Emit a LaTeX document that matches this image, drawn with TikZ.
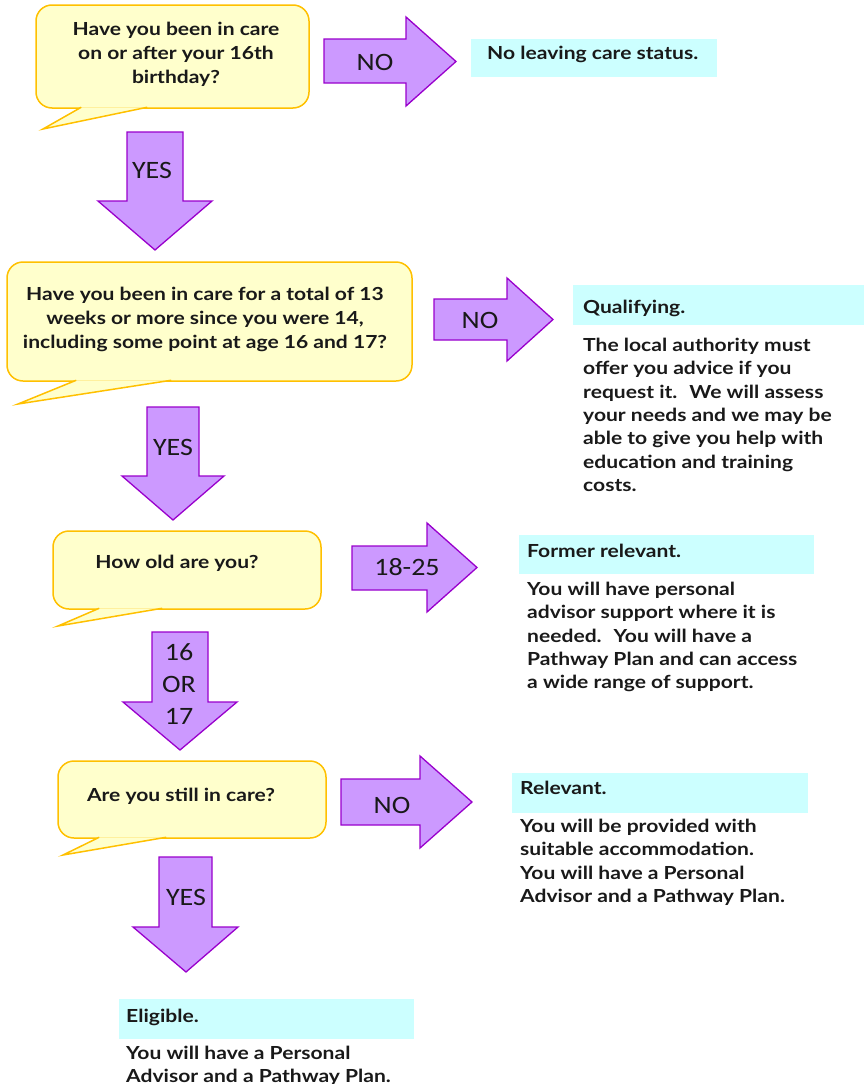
\documentclass[tikz,border=0pt]{standalone}
\usepackage{fontspec}
\setmainfont{Lato}[FakeStretch=1.17]
\newfontfamily\labelfont{Carlito}[FakeStretch=1.12]
\usetikzlibrary{calc}

\definecolor{bubfill}{RGB}{255,255,204}
\definecolor{bubline}{RGB}{255,192,0}
\definecolor{arrfill}{RGB}{204,153,255}
\definecolor{arrline}{RGB}{153,0,204}
\definecolor{headfill}{RGB}{204,255,255}
\definecolor{inktext}{RGB}{25,25,25}

\tikzset{
  bubble/.style={draw=bubline, fill=bubfill, line width=1.5pt, rounded corners=16pt, inner sep=0pt},
  tail/.style={draw=bubline, fill=bubfill, line width=1.5pt, line join=miter},
  blockarrow/.style={draw=arrline, fill=arrfill, line width=1.3pt, line join=miter},
  asktext/.style={font=\fontsize{18}{24}\selectfont\bfseries, text=inktext, align=center, inner sep=0pt, anchor=north},
  arrowtext/.style={font=\labelfont\fontsize{25}{32}\selectfont, text=inktext, align=center, inner sep=0pt},
  headbox/.style={fill=headfill, inner sep=0pt, anchor=north west},
  outtext/.style={font=\fontsize{18}{23.3}\selectfont\bfseries, text=inktext, align=left, inner sep=0pt, anchor=north west}
}

\begin{document}
\begin{tikzpicture}[x=1pt,y=-1pt]
  \useasboundingbox (0,0) rectangle (864,1084);

  % question bubbles
  \node[bubble, minimum width=273, minimum height=103] (b1) at (172.5,56.5) {};
  \coordinate (t1) at (43,129);
  \draw[tail] ($(b1.south west)+(46,-1.5)$) -- (t1) -- ($(b1.south west)+(112,-1.5)$);
  \node[asktext] (q1) at (176,22) {Have you been in care\\on or after your 16th\\birthday?};

  \node[bubble, minimum width=405, minimum height=119] (b2) at (209.5,321.5) {};
  \coordinate (t2) at (18,404);
  \draw[tail] ($(b2.south west)+(70,-1.5)$) -- (t2) -- ($(b2.south west)+(165,-1.5)$);
  \node[asktext] (q2) at (205,287) {Have you been in care for a total of 13\\weeks or more since you were 14,\\including some point at age 16 and 17?};

  \node[bubble, minimum width=268, minimum height=78] (b3) at (187,570) {};
  \coordinate (t3) at (58,626);
  \draw[tail] ($(b3.south west)+(47,-1.5)$) -- (t3) -- ($(b3.south west)+(110,-1.5)$);
  \node[asktext] (q3) at (177,555) {How old are you?};

  \node[bubble, minimum width=268, minimum height=77] (b4) at (192,799.5) {};
  \coordinate (t4) at (63,855);
  \draw[tail] ($(b4.south west)+(42,-1.5)$) -- (t4) -- ($(b4.south west)+(109,-1.5)$);
  \node[asktext] (q4) at (181,788) {Are you still in care?};

  % block arrows
  \draw[blockarrow] (324,39) -- (406,39) -- (406,17) -- (456,61.5) -- (406,106) -- (406,83) -- (324,83) -- cycle;
  \node[arrowtext] (no1) at (375,62) {NO};
  \draw[blockarrow] (127,132) -- (183,132) -- (183,201) -- (212,201) -- (155,250) -- (98,201) -- (127,201) -- cycle;
  \node[arrowtext] (yes1) at (152,170) {YES};

  \draw[blockarrow] (434,299) -- (507,299) -- (507,278) -- (553,319.5) -- (507,361) -- (507,340) -- (434,340) -- cycle;
  \node[arrowtext] (no2) at (480,320) {NO};
  \draw[blockarrow] (147,407) -- (199,407) -- (199,476) -- (224,476) -- (173,520) -- (122,476) -- (147,476) -- cycle;
  \node[arrowtext] (yes2) at (173,447) {YES};

  \draw[blockarrow] (352,546) -- (427,546) -- (427,523) -- (477,567.5) -- (427,612) -- (427,590) -- (352,590) -- cycle;
  \node[arrowtext] (older) at (407,567) {18-25};
  \draw[blockarrow] (152,632) -- (208,632) -- (208,702) -- (237,702) -- (180,750) -- (123,702) -- (152,702) -- cycle;
  \node[arrowtext] (younger) at (179,684) {16\\OR\\17};

  \draw[blockarrow] (341,779) -- (420,779) -- (420,756) -- (472,802) -- (420,848) -- (420,825) -- (341,825) -- cycle;
  \node[arrowtext] (no3) at (392,805) {NO};
  \draw[blockarrow] (159,857) -- (212,857) -- (212,927) -- (238,927) -- (186,972) -- (133,927) -- (159,927) -- cycle;
  \node[arrowtext] (yes3) at (186,897) {YES};

  % outcomes
  \node[headbox, minimum width=246, minimum height=38] (s1) at (471,39) {};
  \node[outtext] (s1t) at (487,46) {No leaving care status.};

  \node[headbox, minimum width=291, minimum height=40] (s2) at (573,285) {};
  \node[outtext] (s2t) at (583,300) {Qualifying.};
  \node[outtext] (s2b) at (583,338) {The local authority must\\offer you advice if you\\request it.~ We will assess\\your needs and we may be\\able to give you help with\\education and training\\costs.};

  \node[headbox, minimum width=295, minimum height=39] (s3) at (519,535) {};
  \node[outtext] (s3t) at (527,544) {Former relevant.};
  \node[outtext] (s3b) at (527,582) {You will have personal\\advisor support where it is\\needed.~ You will have a\\Pathway Plan and can access\\a wide range of support.};

  \node[headbox, minimum width=296, minimum height=40] (s4) at (512,773) {};
  \node[outtext] (s4t) at (520,781) {Relevant.};
  \node[outtext] (s4b) at (520,819) {You will be provided with\\suitable accommodation.\\You will have a Personal\\Advisor and a Pathway Plan.};

  \node[headbox, minimum width=295, minimum height=40] (s5) at (119,999) {};
  \node[outtext] (s5t) at (126,1009) {Eligible.};
  \node[outtext] (s5b) at (126,1046) {You will have a Personal\\Advisor and a Pathway Plan.};
\end{tikzpicture}
\end{document}
